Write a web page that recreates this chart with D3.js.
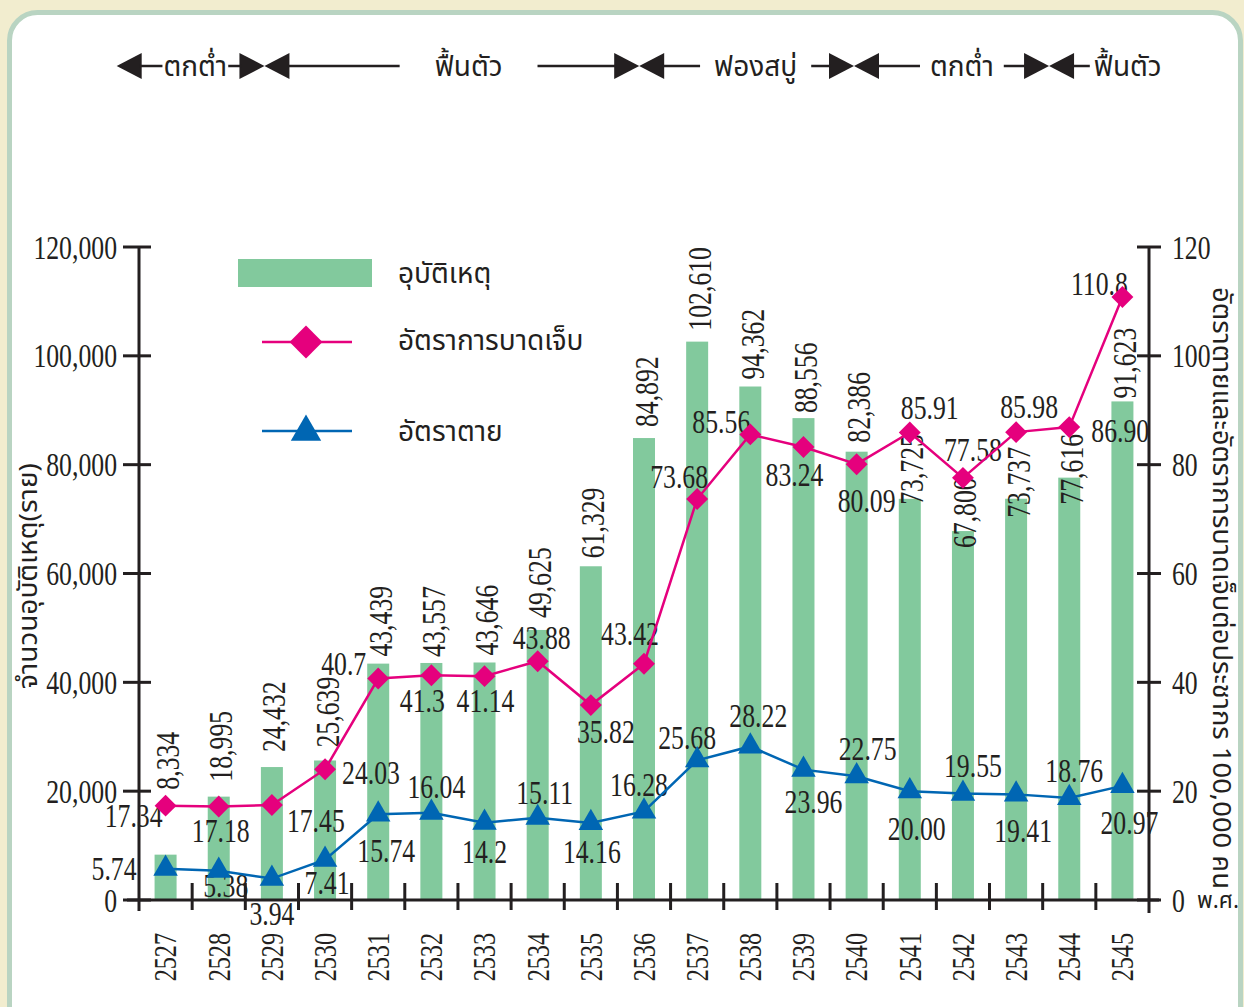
<!DOCTYPE html>
<html>
<head>
<meta charset="utf-8">
<script src="https://cdn.jsdelivr.net/npm/d3@7/dist/d3.min.js"></script>
<style>
  html, body { margin: 0; padding: 0; background: #f2edcf; }
  svg { display: block; }
  .num { font-family: "Liberation Serif", "DejaVu Serif", serif; fill: #231f20; }
  .thai { font-family: "Noto Sans Thai", "Noto Serif Thai", "Loma", "Garuda", "Norasi", "Tlwg Typo", "Kinnari", sans-serif; fill: #231f20; }
</style>
</head>
<body>
<svg id="chart" width="1244" height="1007"></svg>
<script>
// --- ข้อมูล ---
const years = [2527, 2528, 2529, 2530, 2531, 2532, 2533, 2534, 2535, 2536,
               2537, 2538, 2539, 2540, 2541, 2542, 2543, 2544, 2545];
const accidents = [8334, 18995, 24432, 25639, 43439, 43557, 43646, 49625, 61329, 84892,
                   102610, 94362, 88556, 82386, 73725, 67800, 73737, 77616, 91623];
const injuryRate = [17.34, 17.18, 17.45, 24.03, 40.7, 41.3, 41.14, 43.88, 35.82, 43.42,
                    73.68, 85.56, 83.24, 80.09, 85.91, 77.58, 85.98, 86.90, 110.8];
const injuryText = ["17.34", "17.18", "17.45", "24.03", "40.7", "41.3", "41.14", "43.88", "35.82", "43.42",
                    "73.68", "85.56", "83.24", "80.09", "85.91", "77.58", "85.98", "86.90", "110.8"];
const deathRate = [5.74, 5.38, 3.94, 7.41, 15.74, 16.04, 14.2, 15.11, 14.16, 16.28,
                   25.68, 28.22, 23.96, 22.75, 20.00, 19.55, 19.41, 18.76, 20.97];
const deathText = ["5.74", "5.38", "3.94", "7.41", "15.74", "16.04", "14.2", "15.11", "14.16", "16.28",
                   "25.68", "28.22", "23.96", "22.75", "20.00", "19.55", "19.41", "18.76", "20.97"];
const leftTicks = [0, 20000, 40000, 60000, 80000, 100000, 120000];
const rightTicks = [0, 20, 40, 60, 80, 100, 120];

// ช่วงเศรษฐกิจ (ตำแหน่งเป็นปี พ.ศ.)
const phaseNames = ["ตกต่ำ", "ฟื้นตัว", "ฟองสบู่", "ตกต่ำ", "ฟื้นตัว"];
const phaseBreaks = [2526.08, 2528.86, 2535.91, 2539.95, 2543.62];
const phaseLabelAt = [2527.56, 2532.7, 2538.1, 2541.98, 2545.1];

const seriesNames = ["อุบัติเหตุ", "อัตราการบาดเจ็บ", "อัตราตาย"];
const leftTitle = "จำนวนอุบัติเหตุ(ราย)";
const rightTitle = "อัตราตายและอัตราการบาดเจ็บต่อประชากร 100,000 คน";
const xTitle = "พ.ศ.";

// --- ตำแหน่งป้ายตัวเลข (เลื่อนจากจุด) ---
const barLabelShift = [-65, -15, -15, -13, -7, -6, -7, -12, -8, -11, -11, -7, -5, -9, 6, 17, 19, 27, -3];
const injLabel = [[-3, 10, "end"], [2, 24, "middle"], [15, 15, "start"], [17, 3, "start"], [-12, -15, "end"],
                  [-9, 25, "middle"], [1, 24, "middle"], [4, -24, "middle"], [15, 26, "middle"], [-14, -30, "middle"],
                  [-18, -23, "middle"], [-29, -13, "middle"], [-9, 27, "middle"], [10, 36, "middle"], [20, -25, "middle"],
                  [10, -28, "middle"], [13, -26, "middle"], [22, 3, "start"], [-23, -14, "middle"]];
const deathLabel = [[-29, 0, "end"], [7, 15, "middle"], [0, 35, "middle"], [2, 23, "middle"], [8, 36, "middle"],
                    [5, -26, "middle"], [0, 29, "middle"], [7, -25, "middle"], [1, 29, "middle"], [-5, -27, "middle"],
                    [-10, -23, "middle"], [8, -31, "middle"], [10, 32, "middle"], [11, -28, "middle"], [7, 37, "middle"],
                    [10, -28, "middle"], [7, 36, "middle"], [5, -27, "middle"], [7, 37, "middle"]];
const headerGap = [1, 35, 14, 10, 4];

const INK = "#231f20", GREEN = "#82c99d", PINK = "#e5007d", BLUE = "#0066b3";
const SX = 0.78;   // ตัวเลขแบบแคบ

const svg = d3.select("#chart");

// พื้นหลังกรอบ
svg.append("rect").attr("x", 9.5).attr("y", 12.5).attr("width", 1231).attr("height", 1100)
   .attr("rx", 28).attr("fill", "#fff").attr("stroke", "#b9d4c2").attr("stroke-width", 5);

const plotL = 139, plotR = 1149, plotT = 247, plotB = 900;

const x = d3.scaleBand().domain(years).range([plotL, plotR]).paddingInner(0).paddingOuter(0);
const bw = x.bandwidth();
const cx = yr => x(years[0]) + (yr - years[0]) * bw + bw / 2;   // ปี (ทศนิยมได้) -> x
const yL = d3.scaleLinear().domain([0, 120000]).range([plotB, plotT]);
const yR = d3.scaleLinear().domain([0, 120]).range([plotB, plotT]);

function num(g, px, py, txt, anchor, rot, size) {
  return g.append("text").attr("class", "num")
    .attr("transform", `translate(${px},${py}) rotate(${rot || 0}) scale(${SX},1)`)
    .attr("text-anchor", anchor || "middle")
    .attr("dy", "0.35em")
    .attr("font-size", size || 33)
    .text(txt);
}

// แท่ง
const barW = 22;
svg.append("g").selectAll("rect").data(accidents).enter().append("rect")
   .attr("x", (d, i) => cx(years[i]) - barW / 2)
   .attr("y", d => yL(d))
   .attr("width", barW)
   .attr("height", d => plotB - yL(d))
   .attr("fill", GREEN);

// แกน
const axes = svg.append("g").attr("stroke", INK).attr("stroke-width", 3).attr("fill", "none");
axes.append("line").attr("x1", plotL).attr("x2", plotL).attr("y1", yL(120000)).attr("y2", plotB + 11);
axes.append("line").attr("x1", plotR).attr("x2", plotR).attr("y1", yR(120)).attr("y2", plotB + 13);
axes.append("line").attr("x1", plotL - 12).attr("x2", plotR + 10).attr("y1", plotB).attr("y2", plotB);
axes.selectAll(".lt").data(leftTicks).enter().append("line")
   .attr("x1", plotL - 16).attr("x2", plotL + 12).attr("y1", d => yL(d)).attr("y2", d => yL(d));
axes.selectAll(".rt").data(rightTicks).enter().append("line")
   .attr("x1", plotR - 12).attr("x2", plotR + 12).attr("y1", d => yR(d)).attr("y2", d => yR(d));
axes.selectAll(".xt").data(years.slice(1)).enter().append("line")
   .attr("x1", d => x(d)).attr("x2", d => x(d)).attr("y1", plotB - 17).attr("y2", plotB + 10);

const labels = svg.append("g");
leftTicks.forEach(t => num(labels, 117, yL(t), d3.format(",")(t), "end", 0, 33));
rightTicks.forEach(t => num(labels, 1172, yR(t), String(t), "start", 0, 33));
years.forEach(yr => num(labels, cx(yr), 933, String(yr), "end", -90, 31));

labels.append("text").attr("class", "thai")
   .attr("x", 1197).attr("y", plotB).attr("dy", "0.35em").attr("font-size", 23)
   .attr("textLength", 42).attr("lengthAdjust", "spacingAndGlyphs").text(xTitle);
labels.append("text").attr("class", "thai")
   .attr("transform", `translate(28,576) rotate(-90)`)
   .attr("text-anchor", "middle").attr("dy", "0.35em").attr("font-size", 26)
   .attr("textLength", 226).attr("lengthAdjust", "spacingAndGlyphs").text(leftTitle);
labels.append("text").attr("class", "thai")
   .attr("transform", `translate(1222,588) rotate(90)`)
   .attr("text-anchor", "middle").attr("dy", "0.35em").attr("font-size", 26)
   .attr("textLength", 602).attr("lengthAdjust", "spacingAndGlyphs").text(rightTitle);

// เส้น
const lineR = d3.line().x((d, i) => cx(years[i])).y(d => yR(d));
svg.append("path").datum(injuryRate).attr("d", lineR)
   .attr("fill", "none").attr("stroke", PINK).attr("stroke-width", 2.5);
svg.append("path").datum(deathRate).attr("d", lineR)
   .attr("fill", "none").attr("stroke", BLUE).attr("stroke-width", 2.5);

const diamond = d3.symbol().type(d3.symbolSquare).size(240);
const tri = d3.symbol().type(d3.symbolTriangle).size(260);
svg.append("g").selectAll("path").data(injuryRate).enter().append("path")
   .attr("d", diamond)
   .attr("transform", (d, i) => `translate(${cx(years[i])},${yR(d)}) rotate(45)`)
   .attr("fill", PINK);
svg.append("g").selectAll("path").data(deathRate).enter().append("path")
   .attr("d", tri)
   .attr("transform", (d, i) => `translate(${cx(years[i])},${yR(d)})`)
   .attr("fill", BLUE);

// ป้ายตัวเลข
accidents.forEach((v, i) =>
  num(labels, cx(years[i]) + 2, yL(v) + barLabelShift[i], d3.format(",")(v), "start", -90, 33));
injuryRate.forEach((v, i) => {
  const [dx, dy, a] = injLabel[i];
  num(labels, cx(years[i]) + dx, yR(v) + dy, injuryText[i], a, 0, 33);
});
deathRate.forEach((v, i) => {
  const [dx, dy, a] = deathLabel[i];
  num(labels, cx(years[i]) + dx, yR(v) + dy, deathText[i], a, 0, 33);
});

// คำอธิบายสัญลักษณ์
const lg = svg.append("g");
lg.append("rect").attr("x", 238).attr("y", 259).attr("width", 134).attr("height", 28).attr("fill", GREEN);
lg.append("line").attr("x1", 262).attr("x2", 352).attr("y1", 342).attr("y2", 342).attr("stroke", PINK).attr("stroke-width", 2.5);
lg.append("path").attr("d", d3.symbol().type(d3.symbolSquare).size(540)).attr("transform", "translate(306,342) rotate(45)").attr("fill", PINK);
lg.append("line").attr("x1", 262).attr("x2", 352).attr("y1", 431).attr("y2", 431).attr("stroke", BLUE).attr("stroke-width", 2.5);
lg.append("path").attr("d", d3.symbol().type(d3.symbolTriangle).size(400)).attr("transform", "translate(306,432)").attr("fill", BLUE);
[273, 340, 431].forEach((ly, i) =>
  lg.append("text").attr("class", "thai").attr("x", 398).attr("y", ly).attr("dy", "0.35em")
    .attr("font-size", 28).text(seriesNames[i]));

// หัวเรื่องช่วงเศรษฐกิจ
const hy = 66, th = 13, tw = 25;
const hd = svg.append("g");
const tLeft = tip => `M${tip},${hy}L${tip + tw},${hy - th}L${tip + tw},${hy + th}Z`;
const tRight = tip => `M${tip},${hy}L${tip - tw},${hy - th}L${tip - tw},${hy + th}Z`;
phaseBreaks.forEach((b, i) => {
  const px = cx(b);
  hd.append("path").attr("d", tLeft(px)).attr("fill", INK);
  if (i > 0) hd.append("path").attr("d", tRight(px)).attr("fill", INK);
});
phaseNames.forEach((name, i) => {
  const t = hd.append("text").attr("class", "thai").attr("x", cx(phaseLabelAt[i])).attr("y", hy)
    .attr("dy", "0.35em").attr("text-anchor", "middle").attr("font-size", 28).text(name);
  const bb = t.node().getBBox();
  const a = cx(phaseBreaks[i]) + tw, b2 = bb.x - headerGap[i];
  hd.append("line").attr("x1", a - 2).attr("x2", b2).attr("y1", hy).attr("y2", hy).attr("stroke", INK).attr("stroke-width", 2.5);
  if (i < phaseBreaks.length - 1) {
    const c = bb.x + bb.width + headerGap[i], e = cx(phaseBreaks[i + 1]) - tw;
    hd.append("line").attr("x1", c).attr("x2", e + 2).attr("y1", hy).attr("y2", hy).attr("stroke", INK).attr("stroke-width", 2.5);
  }
});
</script>
</body>
</html>
